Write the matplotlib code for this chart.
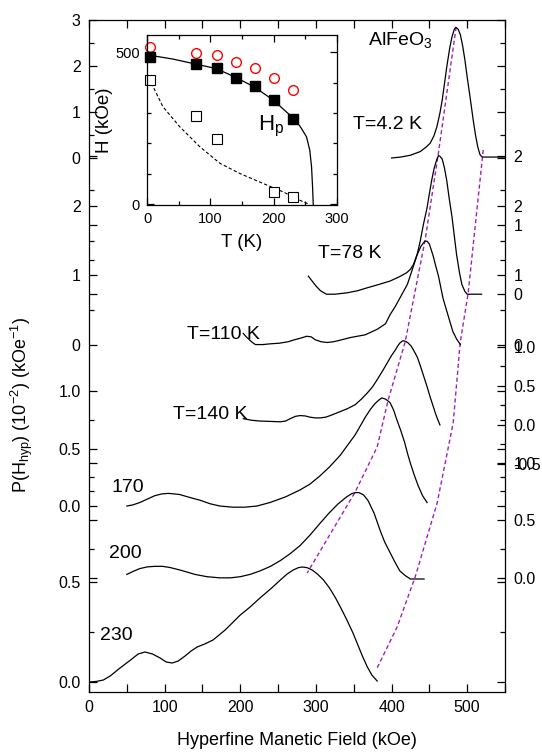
import numpy as np
import matplotlib
matplotlib.use('Agg')
import matplotlib.pyplot as plt
from matplotlib.ticker import FixedLocator, FormatStrFormatter, MultipleLocator

plt.rcParams.update({'font.family': ['Liberation Sans', 'DejaVu Sans'],
                     'mathtext.fontset': 'custom',
                     'mathtext.rm': 'Liberation Sans',
                     'mathtext.it': 'Liberation Sans:italic',
                     'axes.unicode_minus': False,
                     'axes.linewidth': 0.9})

# hyperfine field distributions P(Hhyp) (H in kOe)
h_4k = [400, 412, 425, 438, 446, 451, 456, 460, 464, 467, 470, 473, 477, 480, 483, 485,
        488, 491, 494, 497, 500, 504, 508, 511, 514, 517, 520, 550]
p_4k = [0.0, 0.02, 0.06, 0.14, 0.24, 0.32, 0.48, 0.68, 0.98, 1.26, 1.62, 1.98, 2.40, 2.64, 2.80, 2.84,
        2.80, 2.68, 2.44, 2.13, 1.76, 1.30, 0.82, 0.50, 0.24, 0.07, 0.02, 0.02]

h_78k = [290, 295, 300, 306, 314, 325, 341, 355, 367, 383, 398, 410, 420, 425, 429, 434, 438, 442,
         447, 450, 453, 456, 458, 460, 462, 464, 467, 470, 473, 476, 480, 483, 486, 490, 493, 497, 500, 519]
p_78k = [0.26, 0.19, 0.12, 0.05, 0.0, 0.0, 0.02, 0.05, 0.09, 0.14, 0.19, 0.25, 0.31, 0.36, 0.43, 0.58, 0.77, 1.0,
         1.25, 1.45, 1.64, 1.80, 1.88, 1.95, 2.0, 1.99, 1.95, 1.82, 1.64, 1.40, 1.11, 0.84, 0.57, 0.30, 0.14, 0.04, 0.0, 0.0]

h_110k = [204, 208, 212, 216, 220, 230, 239, 252, 263, 272, 279, 288, 294, 299, 307, 315, 323, 331, 345,
          365, 381, 392, 398, 405, 411, 416, 421, 428, 434, 439, 444, 447, 450, 455, 458, 462, 465, 468,
          472, 475, 478, 481, 486, 491]
p_110k = [0.16, 0.11, 0.07, 0.03, 0.0, 0.0, 0.01, 0.02, 0.04, 0.07, 0.09, 0.12, 0.11, 0.07, 0.04, 0.03, 0.04, 0.06, 0.10,
          0.14, 0.22, 0.30, 0.43, 0.55, 0.67, 0.77, 0.87, 1.10, 1.30, 1.42, 1.49, 1.49, 1.45, 1.28, 1.15, 0.99, 0.83, 0.67,
          0.52, 0.41, 0.30, 0.19, 0.08, 0.0]

h_140k = [204, 215, 226, 240, 253, 260, 266, 273, 279, 286, 292, 299, 306, 313, 319, 332, 342, 352, 360, 368,
          375, 381, 388, 394, 400, 405, 408, 411, 415, 419, 422, 426, 429, 434, 438, 442, 447, 451, 455, 458, 461, 464]
p_140k = [0.08, 0.06, 0.05, 0.045, 0.04, 0.05, 0.08, 0.11, 0.12, 0.115, 0.10, 0.09, 0.09, 0.10, 0.12, 0.17, 0.21, 0.26, 0.33, 0.41,
          0.49, 0.58, 0.69, 0.79, 0.89, 0.96, 1.01, 1.05, 1.08, 1.07, 1.05, 1.01, 0.96, 0.87, 0.76, 0.64, 0.49, 0.36, 0.24, 0.15, 0.07, 0.0]

h_170k = [50, 58, 67, 77, 87, 96, 105, 113, 120, 133, 147, 160, 173, 190, 206, 222, 239, 260, 279, 292,
          305, 318, 332, 342, 352, 359, 365, 372, 378, 383, 387, 392, 398, 403, 407, 412, 417, 421, 425, 430, 435, 441, 447]
p_170k = [0.0, 0.01, 0.03, 0.06, 0.09, 0.105, 0.11, 0.105, 0.10, 0.075, 0.05, 0.02, 0.0, -0.01, -0.01, 0.0, 0.03, 0.08, 0.14, 0.19,
          0.26, 0.34, 0.44, 0.53, 0.62, 0.70, 0.77, 0.84, 0.89, 0.92, 0.94, 0.93, 0.90, 0.83, 0.75, 0.66, 0.56, 0.46, 0.37, 0.27, 0.18, 0.09, 0.03]

h_200k = [50, 58, 67, 77, 87, 97, 107, 122, 140, 156, 173, 187, 200, 213, 226, 240, 253, 266, 279, 292,
          305, 317, 329, 340, 347, 352, 357, 363, 369, 377, 385, 391, 398, 405, 411, 418, 425, 443]
p_200k = [0.03, 0.055, 0.08, 0.095, 0.10, 0.10, 0.09, 0.065, 0.03, 0.01, 0.0, 0.0, 0.01, 0.03, 0.06, 0.10, 0.15, 0.21, 0.28, 0.37,
          0.47, 0.56, 0.64, 0.70, 0.73, 0.74, 0.74, 0.72, 0.67, 0.56, 0.41, 0.31, 0.22, 0.13, 0.06, 0.02, -0.01, -0.01]

h_230k = [1, 10, 19, 28, 41, 55, 65, 74, 84, 94, 102, 110, 118, 127, 135, 143, 153, 164, 180, 200,
          213, 226, 240, 253, 262, 270, 277, 282, 288, 295, 302, 310, 318, 326, 333, 341, 349, 356, 362, 368, 374, 381]
p_230k = [0.0, 0.003, 0.01, 0.03, 0.07, 0.11, 0.14, 0.15, 0.14, 0.12, 0.10, 0.095, 0.105, 0.13, 0.155, 0.175, 0.19, 0.21, 0.26, 0.335,
          0.375, 0.42, 0.465, 0.51, 0.54, 0.56, 0.572, 0.575, 0.572, 0.56, 0.54, 0.51, 0.47, 0.42, 0.37, 0.31, 0.245, 0.18, 0.125, 0.075, 0.035, 0.005]

# dashed guide lines (peak field and upper edge), in the 230 K layer units
h_guide1 = [485.4, 461.6, 444.4, 418.0, 395.5, 381.0, 351.9, 288.4]
v_guide1 = [3.275, 2.635, 2.21, 1.70, 1.41, 1.175, 0.95, 0.545]
h_guide2 = [521.2, 501.3, 490.7, 481.5, 460.3, 431.2, 407.4, 380.9]
v_guide2 = [2.66, 1.945, 1.695, 1.295, 0.895, 0.525, 0.275, 0.07]

# inset: H vs T
t_pts = [4.2, 78, 110, 140, 170, 200, 230]
hp_pts = [485, 460, 447, 414, 389, 343, 281]
hmax_pts = [518, 498, 491, 469, 447, 416, 375]
t_low = [4.2, 78, 110, 200, 230]
hlow_pts = [409, 290, 214, 41, 23]
t_fit = [0, 41, 78, 109, 139, 169, 199, 229, 241.5, 251.8, 257, 259.8, 261.4, 262.5]
h_fit = [491, 477, 460, 446, 418, 386, 343, 287, 257, 222, 178, 124, 58, 0]
t_fit2 = [7, 25, 51.6, 83, 115, 146, 183, 215, 246, 257]
h_fit2 = [398, 321, 255, 190, 135, 102, 69, 41, 9, 0]

W, H = 542, 752
fig = plt.figure(figsize=(W / 100, H / 100), dpi=100)
rect = [89 / W, 1 - 692 / H, (505 - 89) / W, (692 - 20) / H]

def make_layer(ylim, major, minor, fmt, lab_l, lab_r, base=False, tick_l=True):
    a = fig.add_axes(rect, label=str(ylim))
    a.set_xlim(0, 550)
    a.set_ylim(*ylim)
    a.patch.set_visible(False)
    if not base:
        for s in a.spines.values():
            s.set_visible(False)
        a.tick_params(axis='x', which='both', bottom=False, top=False, labelbottom=False)
    a.yaxis.set_major_locator(FixedLocator(major))
    a.yaxis.set_minor_locator(FixedLocator(minor))
    a.yaxis.set_major_formatter(FormatStrFormatter(fmt))
    a.tick_params(axis='y', which='both', direction='in', left=tick_l, right=True,
                  labelleft=lab_l, labelright=lab_r, labelsize=11.5, width=0.9, pad=6)
    a.tick_params(axis='y', which='major', length=6)
    a.tick_params(axis='y', which='minor', length=3.5)
    return a

ax = make_layer((-0.05, 3.31), [0, 0.5], [0.25], '%.1f', True, False, base=True)
ax.xaxis.set_major_locator(MultipleLocator(100))
ax.xaxis.set_minor_locator(MultipleLocator(50))
ax.tick_params(axis='x', which='both', direction='in', top=True, bottom=True,
               labelsize=11.5, width=0.9, length=6, pad=6)
ax.set_xlabel('Hyperfine Manetic Field (kOe)', fontsize=13, labelpad=12)

lay_a = make_layer((-11.61, 3.0), [0, 1, 2, 3], [0.5, 1.5, 2.5], '%.0f', True, False)
lay_b = make_layer((-5.74, 3.957), [0, 1, 2], [0.5, 1.5], '%.0f', False, True)
lay_c = make_layer((-5.01, 4.68), [0, 1, 2], [0.5, 1.5], '%.0f', True, True)
lay_d = make_layer((-3.423, 5.19), [-0.5, 0, 0.5, 1.0], [-0.25, 0.25, 0.75], '%.1f', False, True, tick_l=False)
lay_e = make_layer((-1.617, 4.226), [0, 0.5, 1.0], [0.25, 0.75], '%.1f', True, False)
lay_f = make_layer((-0.991, 4.843), [0, 0.5, 1.0], [0.25, 0.75], '%.1f', False, True)

lw = 0.9
style = dict(color='black', lw=lw, solid_joinstyle='round')
lay_a.plot(h_4k, p_4k, **style)
lay_b.plot(h_78k, p_78k, **style)
lay_c.plot(h_110k, p_110k, **style)
lay_d.plot(h_140k, p_140k, **style)
lay_e.plot(h_170k, p_170k, **style)
lay_f.plot(h_200k, p_200k, **style)
ax.plot(h_230k, p_230k, **style)

purple = '#A020B8'
ax.plot(h_guide1, v_guide1, color=purple, lw=1.0, dashes=(3, 2))
ax.plot(h_guide2, v_guide2, color=purple, lw=1.0, dashes=(3, 2))

fs = 14
lay_a.text(349, 0.72, 'T=4.2 K', fontsize=fs, va='center')
lay_a.text(369, 2.57, r'AlFeO$_\mathregular{3}$', fontsize=fs, va='center')
lay_b.text(303, 0.59, 'T=78 K', fontsize=fs, va='center')
lay_c.text(130, 0.145, 'T=110 K', fontsize=fs, va='center')
lay_d.text(111, 0.13, 'T=140 K', fontsize=fs, va='center')
lay_e.text(30, 0.165, '170', fontsize=fs, va='center')
lay_f.text(26, 0.21, '200', fontsize=fs, va='center')
ax.text(15, 0.23, '230', fontsize=fs, va='center')

fig.text(22 / W, 1 - 405 / H, r'$\mathregular{P(H_{hyp})\ (10^{-2})\ (kOe^{-1})}$',
         rotation=90, fontsize=13, ha='center', va='center')

# inset
ins = fig.add_axes([147 / W, 1 - 205 / H, 190 / W, 170 / H])
ins.set_xlim(0, 300)
ins.set_ylim(-2, 556)
ins.plot(t_fit, h_fit, color='black', lw=0.9)
ins.plot(t_fit2, h_fit2, color='black', lw=0.8, dashes=(3, 2))
ins.plot(t_pts, hmax_pts, 'o', ms=7, mfc='none', mec='red', mew=1.0, clip_on=False)
ins.plot(t_pts, hp_pts, 's', ms=7.5, color='black', clip_on=False)
ins.plot(t_low, hlow_pts, 's', ms=7, mfc='white', mec='black', mew=0.8, clip_on=False)
ins.xaxis.set_major_locator(MultipleLocator(100))
ins.xaxis.set_minor_locator(MultipleLocator(50))
ins.yaxis.set_major_locator(MultipleLocator(500))
ins.yaxis.set_minor_locator(MultipleLocator(100))
ins.tick_params(which='both', direction='in', top=True, right=True, labelsize=10.5, width=0.9, pad=5)
ins.tick_params(which='major', length=5)
ins.tick_params(which='minor', length=3)
ins.set_xlabel('T (K)', fontsize=13.5, labelpad=6)
ins.set_ylabel('H (kOe)', fontsize=13.5, labelpad=2)
ins.text(175, 244, r'$\mathregular{H_p}$', fontsize=16, va='baseline')

fig.savefig('out.png', dpi=100)
